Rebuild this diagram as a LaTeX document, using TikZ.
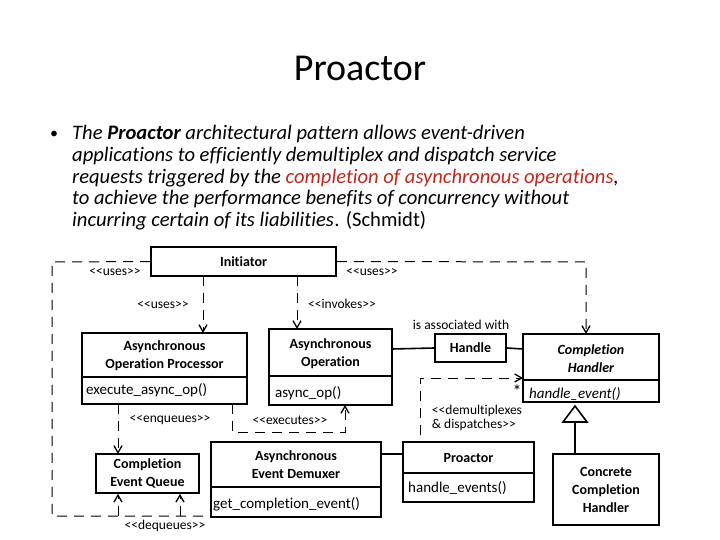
\documentclass[tikz,border=0pt]{standalone}
\usepackage{fontspec}
\setmainfont{Carlito}[RawFeature=-liga]
\usetikzlibrary{arrows.meta}
\definecolor{pred}{RGB}{192,40,30}
\begin{document}
\begin{tikzpicture}[x=1pt,y=-1pt,
  cls/.style={draw,line width=1.6pt,inner sep=0pt,font=\fontsize{14}{18}\selectfont\bfseries,align=center},
  dl/.style={line width=1pt,dash pattern=on 10pt off 7pt},
  sl/.style={line width=1.6pt},
  arr/.style={-{Straight Barb[length=7pt,width=8pt,line width=1.3pt]}},
  lab/.style={font=\fontsize{13.5}{14}\selectfont,inner sep=1pt},
  meth/.style={font=\fontsize{15}{15}\selectfont,anchor=west,inner sep=2pt},
  ln/.style={anchor=base west,inner sep=0pt,font=\fontsize{20.6}{24}\selectfont\itshape}]
\useasboundingbox (0,0) rectangle (720,540);
\node[font=\fontsize{38}{40}\selectfont] (title) at (360,68) {Proactor};
\node[anchor=base west,inner sep=0pt,font=\fontsize{16}{24}\selectfont] (bul) at (50,139) {•};
\node[ln] (l1) at (72,140) {The \textbf{Proactor} architectural pattern allows event-driven};
\node[ln] (l2) at (72,162) {applications to efficiently demultiplex and dispatch service};
\node[ln] (l3) at (72,184) {requests triggered by the \textcolor{pred}{completion of asynchronous operations},};
\node[ln] (l4) at (72,205) {to achieve the performance benefits of concurrency without};
\node[ln] (l5) at (72,226) {incurring certain of its liabilities};
\node[anchor=base west,inner sep=0pt,font=\fontsize{20.6}{24}\selectfont] (l5b) at (l5.base east) {. (Schmidt)};
% boxes
\node[cls,minimum width=185pt,minimum height=29pt] (ini) at (243.5,261.5) {Initiator};
\draw[sl] (82,333) rectangle (247,404); \draw[sl] (82,377)--(247,377);
\node[cls,draw=none] (aop) at (164.5,356) {Asynchronous\\Operation Processor};
\node[meth] (aopm) at (84,390) {execute\_async\_op()};
\draw[sl] (269,329) rectangle (392,405); \draw[sl] (269,376)--(392,376);
\node[cls,draw=none] (ao) at (330.5,354) {Asynchronous\\Operation};
\node[meth] (aom) at (273,393) {async\_op()};
\node[cls,minimum width=103pt,minimum height=39pt] (ceq) at (147.5,473.5) {Completion\\Event Queue};
\draw[sl] (211,442) rectangle (381,517); \draw[sl] (211,487)--(381,487);
\node[cls,draw=none] (aed) at (296,465) {Asynchronous\\Event Demuxer};
\node[meth] (aedm) at (211,504) {get\_completion\_event()};
\node[cls,minimum width=71pt,minimum height=28pt] (hd) at (470.5,348) {Handle};
\draw[sl] (523,334) rectangle (659,402); \draw[sl] (523,380)--(659,380);
\node[cls,draw=none,font=\fontsize{14}{18}\selectfont\bfseries\itshape] (ch) at (591,359) {Completion\\Handler};
\node[meth,font=\fontsize{15}{15}\selectfont\itshape] (chm) at (527,394) {handle\_event()};
\draw[sl] (403,442) rectangle (534,502); \draw[sl] (403,473)--(534,473);
\node[cls,draw=none] (pr) at (468.5,458) {Proactor};
\node[meth] (prm) at (406,488) {handle\_events()};
\node[cls,minimum width=106pt,minimum height=71pt] (cch) at (606,489.5) {Concrete\\Completion\\Handler};
% connectors
\coordinate (a1) at (52,262); \coordinate (a2) at (52,516);
\draw[dl] (ini.west) -- (a1) -- (a2) -- (211,516);
\draw[dl,arr] (118,516) -- (ceq.south -| 118,0);
\draw[dl,arr] (180,516) -- (ceq.south -| 180,0);
\draw[dl,arr] (ini.east) -- (586,262) -- (586,334);
\draw[dl,arr] (203,276) -- (203,333);
\draw[dl,arr] (297,276) -- (297,329);
\draw[dl,arr] (118,404) -- (118,454);
\draw[dl,arr] (232,404) -- (232,432) -- (345,432) -- (345,405);
\draw[sl] (392,349) -- (hd.west);
\draw[sl] (hd.east) -- (523,349);
\draw[sl] (381,454) -- (403,454);
\draw[dl,arr] (420,435) -- (420,378) -- (523,378);
\draw[sl] (575,454) -- (575,422);
\draw[sl,fill=white] (575,406) -- (563,422) -- (587,422) -- cycle;
% labels
\node[lab] at (115,272) {<{}<uses>{}>};
\node[lab] at (372,272) {<{}<uses>{}>};
\node[lab] at (163,305) {<{}<uses>{}>};
\node[lab] at (342,304) {<{}<invokes>{}>};
\node[lab] at (170,420) {<{}<enqueues>{}>};
\node[lab] at (290,420) {<{}<executes>{}>};
\node[lab] at (165,526) {<{}<dequeues>{}>};
\node[lab] at (461,325) {is associated with};
\node[lab,align=left] at (477,418) {<{}<demultiplexes\\\& dispatches>{}>};
\node[lab,font=\fontsize{18}{18}\selectfont] at (517,391) {*};
\end{tikzpicture}
\end{document}
